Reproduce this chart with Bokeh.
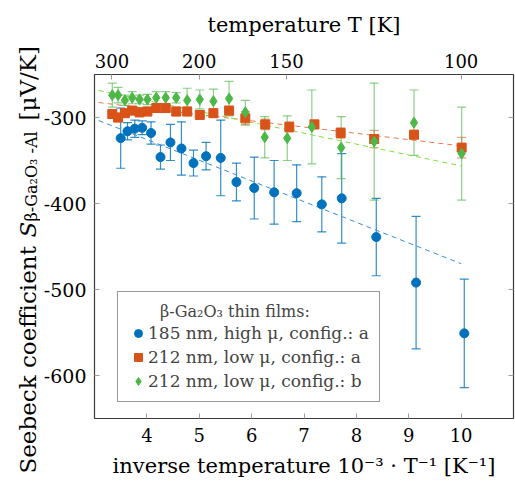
import math

from bokeh.plotting import figure
from bokeh.layouts import row
from bokeh.core.properties import value
from bokeh.models import (Range1d, LinearAxis, FixedTicker, Whisker, ColumnDataSource,
                          Legend, LegendItem, TeeHead)
from bokeh.embed import file_html
from bokeh.resources import INLINE

# inverse temperature 1000/T [1/K] and Seebeck coefficient S [uV/K] with errors
inv_t_185_a = [3.50, 3.63, 3.77, 3.91, 4.08, 4.26, 4.45, 4.66, 4.89, 5.13,
               5.41, 5.71, 6.05, 6.43, 6.86, 7.34, 7.72, 8.38, 9.14, 10.06]
s_185_a = [-324, -316, -313, -312, -318, -346, -329, -336, -353, -345,
           -347, -375, -382, -387, -388, -401, -394, -439, -492, -551]
err_185_a = [35, 10, 10, 8, 13, 14, 21, 31, 15, 16,
             44, 22, 36, 37, 33, 32, 52, 45, 77, 63]

inv_t_212_a = [3.34, 3.45, 3.58, 3.72, 3.86, 4.01, 4.18, 4.36, 4.56, 4.77,
               5.01, 5.27, 5.57, 5.88, 6.26, 6.72, 7.20, 7.70, 8.34, 9.10, 10.01]
s_212_a = [-296, -300, -295, -292, -294, -293, -289, -289, -293, -293,
           -297, -295, -292, -301, -308, -311, -308, -318, -325, -320, -335]
err_212_a = [5, 5, 5, 5, 5, 5, 5, 5, 5, 5,
             5, 5, 5, 8, 6, 6, 5, 6, 10, 5, 12]

inv_t_212_b = [3.34, 3.45, 3.58, 3.72, 3.86, 4.01, 4.18, 4.36, 4.56, 4.77,
               5.01, 5.27, 5.57, 5.88, 6.25, 6.68, 7.15, 7.71, 8.34, 9.10, 10.01]
s_212_b = [-274, -274, -280, -277, -279, -279, -277, -277, -277, -280,
           -279, -281, -278, -294, -323, -324, -311, -335, -328, -306, -342]
err_212_b = [14, 9, 6, 7, 5, 6, 7, 7, 6, 14,
             11, 14, 20, 14, 24, 26, 43, 36, 68, 38, 54]

# linear fits (end points)
fit_x = [3.08, 10.0]
fit_185_a = [-303.5, -470.0]
fit_212_a = [-282.6, -333.0]
fit_212_b = [-268.6, -356.3]

x_ticks = [4, 5, 6, 7, 8, 9, 10]
y_ticks = [-600, -500, -400, -300]
y_tick_labels = ["-600", "-500", "-400", "-300"]
top_temps = [300, 200, 150, 100]
top_labels = ["300", "200", "150", "100"]

series_labels = ["185 nm, high \u03bc, config.: a",
                 "212 nm, low \u03bc, config.: a",
                 "212 nm, low \u03bc, config.: b"]
legend_title = "\u2003\u2003\u03b2-Ga\u2082O\u2083 thin films:"

# pieces of the vertical axis title: text, style, size, baseline x, start y
ylab_texts = ["Seebeck coefficient", "S", "\u03b2-Ga\u2082O\u2083 -Al", "[\u03bcV/K]"]
ylab_styles = ["normal", "italic", "normal", "normal"]
ylab_sizes = ["23px", "23px", "16px", "23px"]
ylab_x = [27, 27, 31, 27]
ylab_y = [21, 257, 273, 374]

BLUE = "#0072BD"
ORANGE = "#D95319"
GREEN = "#4DB848"
FONT = "DejaVu Serif"
TITLE_W = 40
W, H = 515, 494

p = figure(width=W - TITLE_W, height=H, x_range=Range1d(3, 11), y_range=Range1d(-650, -250),
           output_backend="svg", toolbar_location=None,
           min_border_left=93 - TITLE_W, min_border_right=2, min_border_top=74,
           min_border_bottom=76)
p.grid.visible = False
p.outline_line_color = "#3a3a3a"
p.outline_line_width = 1.2
p.background_fill_color = "white"
p.border_fill_color = "white"
p.frame_align = False


def style_axis(ax, label_size="18px"):
    ax.axis_line_color = None
    ax.major_tick_in = 5
    ax.major_tick_out = 0
    ax.minor_tick_in = 0
    ax.minor_tick_out = 0
    ax.major_tick_line_color = "#a0a0a0"
    ax.major_label_text_font = FONT
    ax.major_label_text_font_size = label_size
    ax.major_label_text_color = "black"
    ax.axis_label_text_font = FONT
    ax.axis_label_text_font_style = "normal"
    ax.axis_label_text_font_size = "21px"
    ax.axis_label_text_color = "black"


bottom = p.below[0]
bottom.ticker = FixedTicker(ticks=x_ticks)
bottom.axis_label = "inverse temperature 10\u207b\u00b3 \u00b7 T\u207b\u00b9 [K\u207b\u00b9]"
style_axis(bottom)
bottom.major_label_standoff = 9
bottom.axis_label_standoff = 9

left = p.left[0]
left.ticker = FixedTicker(ticks=y_ticks)
left.major_label_overrides = {v: lab for v, lab in zip(y_ticks, y_tick_labels)}
style_axis(left, "19px")
left.major_label_standoff = 8

top_pos = [1000.0 / t for t in top_temps]
top = LinearAxis(ticker=FixedTicker(ticks=top_pos),
                 major_label_overrides={pos: lab for pos, lab in zip(top_pos, top_labels)},
                 axis_label="temperature T [K]")
style_axis(top)
top.major_label_standoff = 7
top.axis_label_standoff = 14
p.add_layout(top, "above")

right = LinearAxis(ticker=FixedTicker(ticks=y_ticks))
style_axis(right)
right.major_label_text_font_size = "0px"
right.major_label_text_color = None
right.major_label_standoff = 0
p.add_layout(right, "right")


def error_bars(x, y, err, color, alpha):
    src = ColumnDataSource(dict(x=x, lo=[v - e for v, e in zip(y, err)],
                                hi=[v + e for v, e in zip(y, err)]))
    w = Whisker(base="x", lower="lo", upper="hi", source=src,
                line_color=color, line_alpha=alpha, line_width=1.2,
                upper_head=TeeHead(size=9, line_color=color, line_alpha=alpha, line_width=1.2),
                lower_head=TeeHead(size=9, line_color=color, line_alpha=alpha, line_width=1.2))
    p.add_layout(w)


# dashed linear fits
p.line(fit_x, fit_185_a, line_color="#3D8FD6", line_dash="5 4", line_width=1)
p.line(fit_x, fit_212_a, line_color="#F0794A", line_dash="5 4", line_width=1)
p.line(fit_x, fit_212_b, line_color="#7EE03C", line_dash="5 4", line_width=1)

error_bars(inv_t_185_a, s_185_a, err_185_a, BLUE, 0.8)
error_bars(inv_t_212_a, s_212_a, err_212_a, ORANGE, 0.55)
error_bars(inv_t_212_b, s_212_b, err_212_b, GREEN, 0.65)

r_blue = p.scatter(inv_t_185_a, s_185_a, marker="circle", size=9, color=BLUE)
r_orange = p.scatter(inv_t_212_a, s_212_a, marker="square", size=9, color=ORANGE)
r_green = p.scatter(inv_t_212_b, s_212_b, marker="diamond", size=11, color=GREEN)

legend = Legend(items=[LegendItem(label=series_labels[0], renderers=[r_blue]),
                       LegendItem(label=series_labels[1], renderers=[r_orange]),
                       LegendItem(label=series_labels[2], renderers=[r_green])],
                title=legend_title, location=(23, 16))
legend.title_text_font = FONT
legend.title_text_font_size = "16px"
legend.title_text_font_style = "normal"
legend.title_standoff = 2
legend.label_text_font = FONT
legend.label_text_font_size = "17px"
legend.glyph_width = 20
legend.glyph_height = 20
legend.label_standoff = 0
legend.padding = 10
legend.spacing = 4
legend.border_line_color = "#333333"
legend.border_line_width = 1
legend.background_fill_alpha = 1
legend.margin = 0
p.add_layout(legend)

# narrow strip on the left carrying the rotated vertical axis title
t = figure(width=TITLE_W, height=H, x_range=Range1d(0, TITLE_W), y_range=Range1d(0, H),
           output_backend="svg", toolbar_location=None, x_axis_location=None,
           y_axis_location=None, min_border=0)
t.grid.visible = False
t.outline_line_color = None
t.background_fill_color = "white"
t.border_fill_color = "white"
t.frame_align = False
for txt, style, size, bx, by in zip(ylab_texts, ylab_styles, ylab_sizes, ylab_x, ylab_y):
    t.text(x=[bx], y=[by], text=[txt], angle=math.pi / 2, text_align="left",
           text_baseline="alphabetic", text_font=value(FONT), text_font_style=style,
           text_font_size=value(size), text_color="black")

layout = row(t, p)
open("out.html", "w").write(file_html(layout, INLINE))
